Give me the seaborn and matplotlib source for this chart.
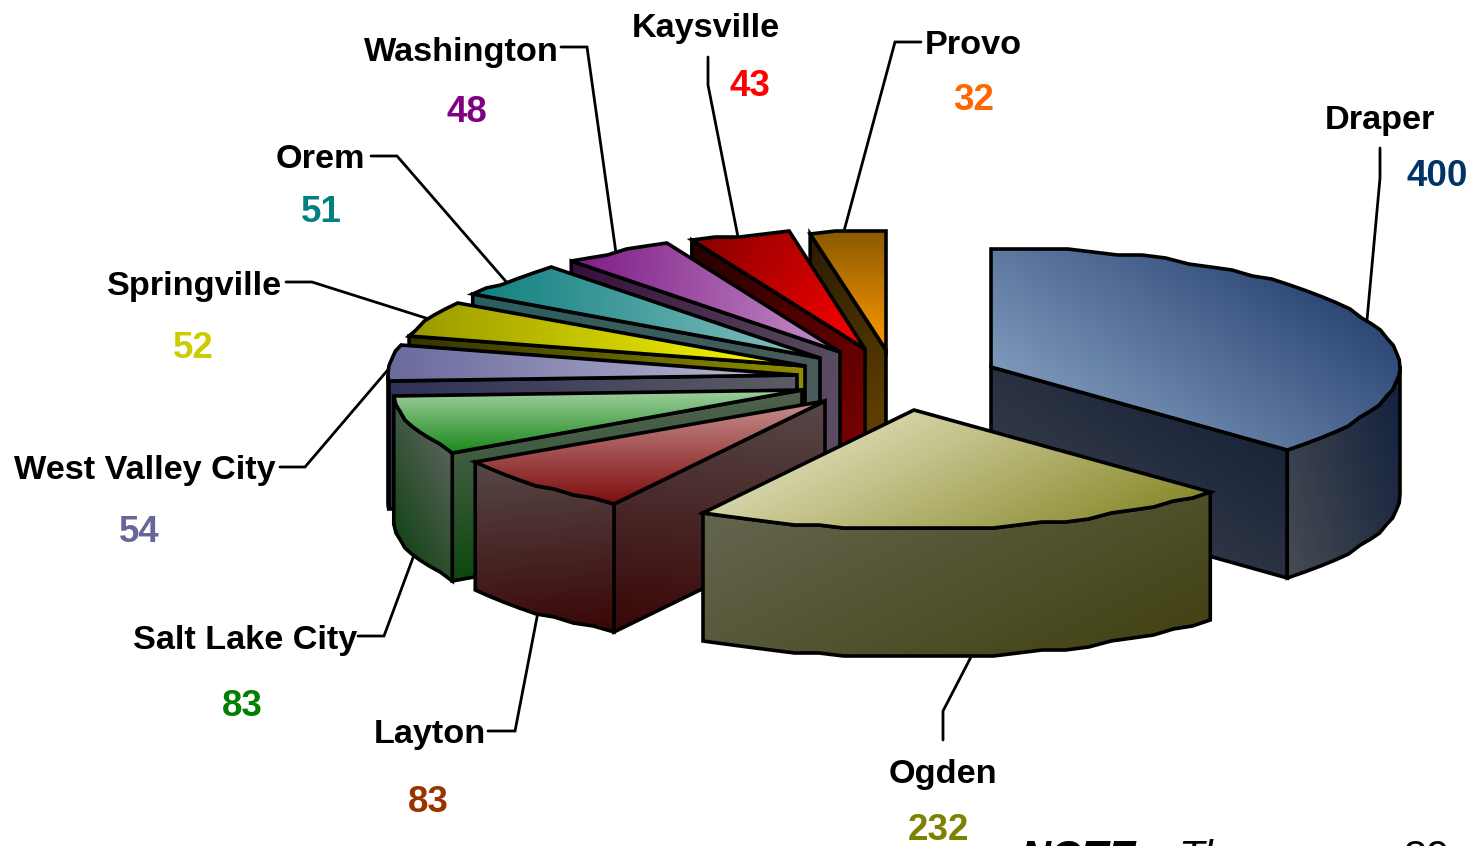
import numpy as np
import matplotlib
matplotlib.use("Agg")
import matplotlib.pyplot as plt
from matplotlib.patches import Polygon
import seaborn as sns

# data, clockwise from 12 o'clock
cities = ['Draper', 'Ogden', 'Layton', 'Salt Lake City', 'West Valley City',
          'Springville', 'Orem', 'Washington', 'Kaysville', 'Provo']
counts = [400, 232, 83, 83, 54, 52, 51, 48, 43, 32]
count_colors = ['#003366', '#808000', '#993300', '#008000', '#666699',
                '#cccc00', '#008080', '#800080', '#ff0000', '#ff6600']

sns.set_theme(style="white")
plt.rcParams['font.family'] = ['Liberation Sans', 'DejaVu Sans']

W, H = 1471, 846
RX, RY, DEPTH = 409, 119, 128
EDGE = 2.6

# where each exploded slice has its tip
tips = {'Draper': (991, 367), 'Ogden': (914, 410), 'Layton': (825, 401),
        'Salt Lake City': (802, 390), 'West Valley City': (797, 375),
        'Springville': (805, 366), 'Orem': (820, 358), 'Washington': (840, 352),
        'Kaysville': (865, 349), 'Provo': (886, 350)}

# gradient colours: top, cut face, rim. each is (start, end, direction)
shades = {
    'Draper': (('#7d98ba', '#2e4877', (0.7, -1)), ('#383f4d', '#1a2438', (1, -1.5)), ('#474b53', '#11203c', (1, -0.3))),
    'Ogden': (('#d4d3a6', '#8a8a2e', (0.5, 1)), None, ('#64654f', '#434315', (0.5, 1))),
    'Layton': (('#c78f8f', '#7d0e0e', (0, 1)), ('#574848', '#3a0606', (-0.1, 1)), ('#574848', '#3a0606', (0.1, 1))),
    'Salt Lake City': (('#9fcf9f', '#1b881b', (0, 1)), ('#4f614f', '#0c480c', (0.1, 1)), ('#17461a', '#586258', (1, -0.5))),
    'West Valley City': (('#6a6a9e', '#bcbcd6', (1, 0)), ('#31315a', '#5c5c64', (1, 0)), ('#31315a', '#31315a', (1, 0))),
    'Springville': (('#999900', '#ffff00', (1, 0)), ('#333300', '#8f8f00', (1, 0)), None),
    'Orem': (('#0f8080', '#8ac2c2', (1, 0)), ('#2b5e5e', '#4b5a5a', (1, 0)), None),
    'Washington': (('#7d1b85', '#c590c9', (1, 0.1)), ('#37103c', '#5b4f63', (1, 0.1)), None),
    'Kaysville': (('#880000', '#ff0000', (1, 0.8)), ('#240000', '#800000', (1, 0.8)), None),
    'Provo': (('#8a5a00', '#ff9900', (0, 1)), ('#2a1c00', '#6e4800', (0.5, 1)), None),
}

# slices that show the cut at their last angle instead of their first
cut_at_end = ['Draper']

# label layout: name xy, count xy, leader line
labels = {
    'Draper': ((1380, 121), (1437, 177), [(1380, 148), (1380, 178), (1367, 320)]),
    'Ogden': ((943, 775), (939, 830), [(943, 740), (943, 711), (972, 655)]),
    'Layton': ((430, 734), (428, 803), [(488, 731), (515, 731), (538, 612)]),
    'Salt Lake City': ((245, 640), (242, 706), [(358, 636), (384, 636), (414, 555)]),
    'West Valley City': ((145, 471), (139, 533), [(280, 467), (305, 467), (392, 365)]),
    'Springville': ((195, 286), (193, 349), [(286, 282), (312, 282), (432, 320)]),
    'Orem': ((320, 160), (321, 213), [(371, 156), (397, 156), (509, 285)]),
    'Washington': ((461, 52), (467, 113), [(561, 47), (587, 47), (616, 253)]),
    'Kaysville': ((706, 29), (750, 87), [(708, 57), (708, 85), (738, 237)]),
    'Provo': ((973, 45), (974, 101), [(921, 42), (895, 42), (844, 231)]),
}

fig = plt.figure(figsize=(W / 100, H / 100), dpi=100)
ax = fig.add_axes([0, 0, 1, 1])
ax.set_axis_off()

z = [2]


def arc(tip, a0, a1):
    # the old export has stepped rims, so snap y to a coarse grid
    n = max(int(abs(a1 - a0) * RX * np.pi / 180 / 26), 1) + 1
    a = np.radians(np.linspace(a0, a1, n + 1))
    x = tip[0] + RX * np.sin(a)
    y = tip[1] - RY * np.cos(a)
    return np.column_stack([x, np.round(y / 3) * 3])


def fill(points, shade):
    points = np.asarray(points, dtype=float)
    c0, c1, d = shade
    x0, y0 = points.min(axis=0)
    x1, y1 = points.max(axis=0)
    xx, yy = np.meshgrid(np.linspace(x0, x1, 200), np.linspace(y0, y1, 200))
    p = points[:, 0] * d[0] + points[:, 1] * d[1]
    t = (xx * d[0] + yy * d[1] - p.min()) / (p.max() - p.min())
    cmap = sns.blend_palette([c0, c1], as_cmap=True)
    im = ax.imshow(t, cmap=cmap, vmin=0, vmax=1, extent=(x0, x1, y1, y0),
                   aspect='auto', interpolation='bilinear', zorder=z[0])
    edge = Polygon(points, closed=True, facecolor='none', edgecolor='black',
                   linewidth=EDGE, joinstyle='miter', zorder=z[0] + 1)
    ax.add_patch(edge)
    im.set_clip_path(edge)
    z[0] += 2


def draw_slice(name, a0, a1):
    tip = tips[name]
    top, cut, rim = shades[name]
    down = np.array([0, DEPTH])
    rim_top = arc(tip, a0, a1)
    if cut is not None:
        end = rim_top[-1] if name in cut_at_end else rim_top[0]
        fill([tip, end, end + down, np.array(tip) + down], cut)
    lo, hi = max(a0, 90), min(a1, 270)
    if rim is not None and hi > lo:
        front = arc(tip, lo, hi)
        fill(np.vstack([front, (front + down)[::-1]]), rim)
    fill(np.vstack([[tip], rim_top]), top)


edges = np.concatenate([[0], np.cumsum(counts)]) / sum(counts) * 360
spans = {c: (edges[i], edges[i + 1]) for i, c in enumerate(cities)}

# back to front: Draper, then round from Provo to Ogden
for name in ['Draper'] + cities[:0:-1]:
    draw_slice(name, *spans[name])

# leader lines sit under the slices
for city, count, col in zip(cities, counts, count_colors):
    name_xy, count_xy, leader = labels[city]
    ax.plot(*zip(*leader), color='black', lw=2, zorder=1, solid_joinstyle='miter')
    ax.text(*name_xy, city, fontsize=24.7, fontweight='bold', color='black',
            ha='center', va='center')
    ax.text(*count_xy, str(count), fontsize=26.5, fontweight='bold', color=col,
            ha='center', va='center')

# note running off the bottom of the slide
ax.text(1020, 870, 'NOTE', fontsize=30, fontweight='bold', fontstyle='italic', color='black')
ax.text(1178, 870, 'The', fontsize=30, fontstyle='italic', color='black')
ax.text(1403, 870, '89', fontsize=30, color='black')

ax.set_xlim(0, W)
ax.set_ylim(H, 0)
fig.savefig('out.png', dpi=100, facecolor='white')
